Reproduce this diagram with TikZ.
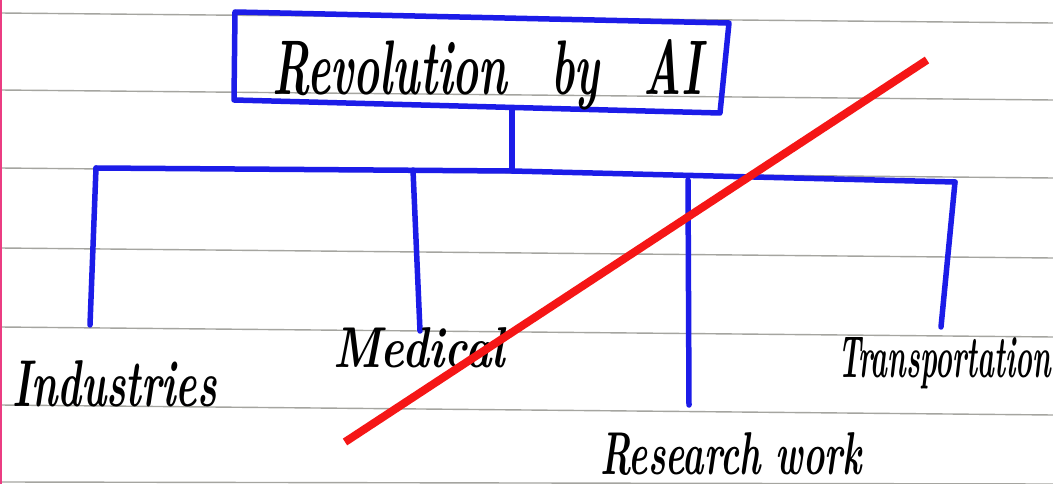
\documentclass[tikz,border=0pt]{standalone}
\usepackage{graphicx}
\definecolor{penblue}{RGB}{28,28,232}
\definecolor{penred}{RGB}{245,22,22}
\definecolor{ruling}{RGB}{165,165,160}
\definecolor{margin}{RGB}{235,60,130}
% marker-written label: width, height above baseline, text
\newcommand{\hwtext}[3]{\resizebox{#1pt}{#2pt}{\bfseries\itshape #3}}
\begin{document}
\begin{tikzpicture}[x=1pt,y=-1pt,
  rule/.style={draw=ruling,line width=1.4pt},
  pen/.style={draw=penblue,line width=5.5pt,line cap=round,line join=round},
  strike/.style={draw=penred,line width=8pt},
  label/.style={anchor=base west,inner sep=0pt,outer sep=0pt,text=black}]
\useasboundingbox (0,0) rectangle (1053,484);
\fill[white] (0,0) rectangle (1053,484);

% ruled notebook paper
\foreach \ry in {13,90,168,248,327,405}
  \draw[rule] (0,\ry) -- (1053,\ry+10);
\draw[rule] (0,482) -- (1053,484);
\draw[margin,line width=2pt] (1,0) -- (1,484);

% title box
\coordinate (tl) at (235,12);
\coordinate (tr) at (729,23);
\coordinate (br) at (720,113);
\coordinate (bl) at (234,100);
\draw[pen] (tl) -- (tr) -- (br) -- (bl) -- cycle;
\node[label] (title) at (272,95)
  {\hwtext{430}{55}{Revolution\hspace{1em}by\hspace{1em}AI}};

% branching bar
\coordinate (stemtop) at (512,108);
\coordinate (stembot) at (512,171);
\coordinate (barL) at (96,168);
\coordinate (barR) at (955,182);
\coordinate (jMed) at (413,170);
\coordinate (jRes) at (688,180);
\draw[pen] (stemtop) -- (stembot);
\draw[pen] (barL) -- (stembot) -- (barR);

% drops to each field
\coordinate (eInd) at (90,325);
\coordinate (eMed) at (420,331);
\coordinate (eRes) at (689,405);
\coordinate (eTra) at (941,327);
\draw[pen] (barL) -- (eInd);
\draw[pen] (jMed) -- (eMed);
\draw[pen] (jRes) -- (eRes);
\draw[pen] (barR) -- (eTra);

% field labels
\node[label] (ind) at (12,406) {\hwtext{205}{46}{Industries}};
\node[label] (med) at (333,367) {\hwtext{172}{40}{Medical}};
\node[label] (res) at (600,474) {\hwtext{262}{42}{Research work}};
\node[label] (tra) at (838,377) {\hwtext{213}{40}{Transportation}};

% red strike-through
\coordinate (sA) at (345,442);
\coordinate (sB) at (927,60);
\draw[strike] (sA) -- (sB);
\end{tikzpicture}
\end{document}
